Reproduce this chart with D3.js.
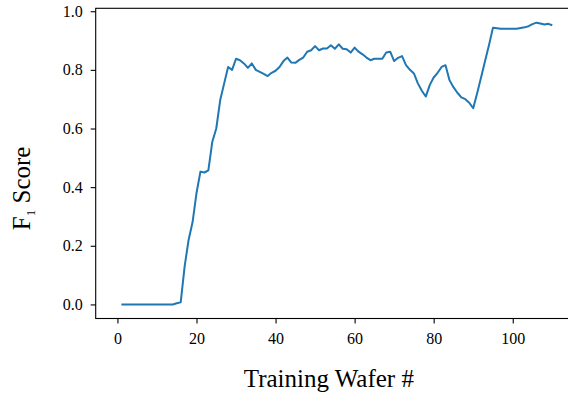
<!DOCTYPE html>
<html>
<head>
<meta charset="utf-8">
<script src="https://cdn.jsdelivr.net/npm/d3@7"></script>
<style>
  body { margin: 0; background: #fff; }
  svg { font-family: "Liberation Serif", "Times New Roman", serif; }
  .axis path, .axis line { stroke: #000; stroke-width: 1.1; }
</style>
</head>
<body>
<div id="chart"></div>
<script>
// F1 score per training wafer (wafer # = index + 1)
var wafers = d3.range(1, 111);
var f1 = [
  0, 0, 0, 0, 0, 0, 0, 0, 0, 0,
  0, 0, 0, 0, 0.004, 0.007, 0.13, 0.22, 0.28, 0.38,
  0.453, 0.45, 0.457, 0.555, 0.60, 0.697, 0.754, 0.81, 0.80, 0.838,
  0.833, 0.822, 0.807, 0.822, 0.80, 0.793, 0.786, 0.779, 0.79, 0.797,
  0.81, 0.83, 0.842, 0.825, 0.824, 0.834, 0.842, 0.862, 0.867, 0.881,
  0.867, 0.873, 0.873, 0.884, 0.872, 0.887, 0.872, 0.870, 0.859, 0.876,
  0.862, 0.853, 0.842, 0.833, 0.838, 0.838, 0.838, 0.859, 0.862, 0.830,
  0.841, 0.847, 0.816, 0.80, 0.788, 0.754, 0.729, 0.709, 0.748, 0.774,
  0.79, 0.81, 0.816, 0.765, 0.741, 0.722, 0.706, 0.70, 0.688, 0.669,
  0.72, 0.775, 0.83, 0.885, 0.944, 0.942, 0.940, 0.940, 0.940, 0.940,
  0.940, 0.943, 0.945, 0.949, 0.956, 0.961, 0.958, 0.955, 0.957, 0.952
];
var xTicks = [0, 20, 40, 60, 80, 100];
var yTicks = [0.0, 0.2, 0.4, 0.6, 0.8, 1.0];

var width = 568, height = 394;
var mLeft = 95.7, mTop = 8.3, mBottom = 318.5, mRight = 574;

var x = d3.scaleLinear().domain([-5.5, 115.5]).range([mLeft, mRight]);
var y = d3.scaleLinear().domain([-0.048, 1.010]).range([mBottom, mTop]);

var svg = d3.select("#chart").append("svg")
  .attr("width", width)
  .attr("height", height);

// frame (right spine falls off the picture)
svg.append("rect")
  .attr("x", mLeft).attr("y", mTop)
  .attr("width", mRight - mLeft).attr("height", mBottom - mTop)
  .attr("fill", "none").attr("stroke", "#000").attr("stroke-width", 1.1);

function serifTicks(g) {
  g.select(".domain").remove();
  g.selectAll("text")
    .style("font-family", "Liberation Serif")
    .style("font-size", "16px")
    .style("fill", "#000");
}

svg.append("g")
  .attr("class", "axis")
  .attr("transform", "translate(0," + mBottom + ")")
  .call(d3.axisBottom(x).tickValues(xTicks).tickSize(5).tickPadding(9).tickFormat(d3.format("d")))
  .call(serifTicks);

svg.append("g")
  .attr("class", "axis")
  .attr("transform", "translate(" + mLeft + ",0)")
  .call(d3.axisLeft(y).tickValues(yTicks).tickSize(5).tickPadding(8).tickFormat(d3.format(".1f")))
  .call(serifTicks);

var line = d3.line()
  .x(function (d, i) { return x(wafers[i]); })
  .y(function (d) { return y(d); });

svg.append("path")
  .datum(f1)
  .attr("fill", "none")
  .attr("stroke", "#1f77b4")
  .attr("stroke-width", 2)
  .attr("stroke-linejoin", "round")
  .attr("d", line);

// axis labels
svg.append("text")
  .attr("x", (mLeft + 568) / 2 - 3)
  .attr("y", 387)
  .attr("text-anchor", "middle")
  .style("font-size", "25px")
  .text("Training Wafer #");

var yl = svg.append("text")
  .attr("transform", "translate(30," + ((mTop + mBottom) / 2 + 25) + ") rotate(-90)")
  .attr("text-anchor", "middle")
  .style("font-size", "25px");
yl.append("tspan").text("F");
yl.append("tspan").attr("dy", 5).style("font-size", "13px").text("1");
yl.append("tspan").attr("dy", -5).text(" Score");
</script>
</body>
</html>
